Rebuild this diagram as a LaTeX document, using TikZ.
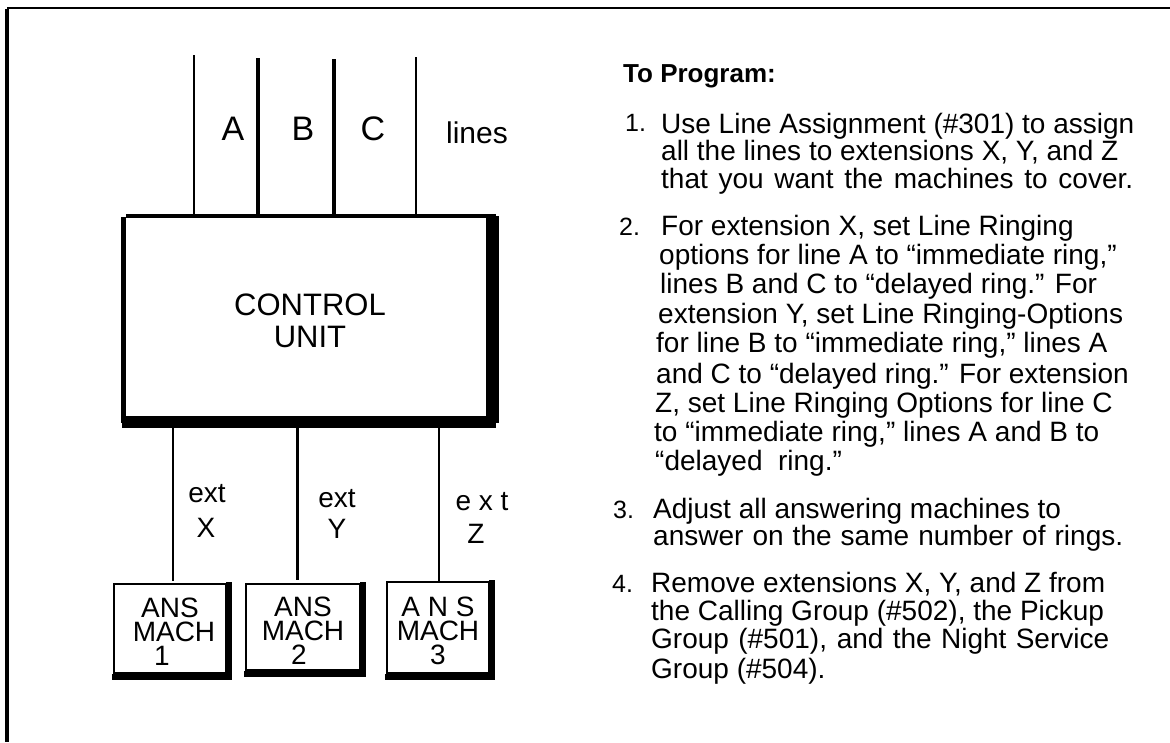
\documentclass[tikz,border=0pt]{standalone}
\usepackage{fontspec}
\setmainfont{Liberation Sans}
\usetikzlibrary{calc}
\begin{document}
\begin{tikzpicture}[x=1pt,y=-1pt,
  txt/.style={inner sep=0pt, anchor=base west, font=\fontsize{28}{28}\selectfont},
  num/.style={inner sep=0pt, anchor=base west, font=\fontsize{25}{25}\selectfont},
  ttl/.style={inner sep=0pt, anchor=base west, font=\fontsize{26}{26}\selectfont\bfseries},
  lbl/.style={inner sep=0pt, anchor=base, font=\fontsize{28}{28}\selectfont},
  biglbl/.style={inner sep=0pt, anchor=base, font=\fontsize{34}{34}\selectfont},
  ansbox/.style={draw, line width=1.3pt, inner sep=0pt, align=center, font=\fontsize{28}{24}\selectfont},
  thinw/.style={line width=2pt},
  thickw/.style={line width=3.5pt}
]
\useasboundingbox (0,0) rectangle (1170,742);
% frame
\coordinate (fTL) at (7.3,7.7);
\coordinate (fTR) at (1170,7.7);
\coordinate (fLT) at (6.7,9.3);
\coordinate (fLB) at (6.7,742);
\draw[line width=2pt] (fTL) -- (fTR);
\draw[line width=4pt] (fLT) -- (fLB);

% control unit
\node[inner sep=0pt, minimum width=378pt, minimum height=214.3pt, align=center,
      font=\fontsize{31}{32}\selectfont] (cu) at (310,320.85) {CONTROL\\UNIT};
\fill ($(cu.north west)+(5.6,0)$) rectangle ($(cu.north east)+(-3,4.6)$);
\fill ($(cu.north west)+(0,3.3)$) rectangle ($(cu.south west)+(5,-5.3)$);
\fill ($(cu.north east)+(-13,2.3)$) rectangle ($(cu.south east)+(0,-5)$);
\fill ($(cu.south west)+(1,0)$) rectangle ($(cu.south east)+(-3,-12)$);

% incoming lines
\coordinate (lA) at (194,55);
\coordinate (lB) at (258,58);
\coordinate (lC) at (334,59);
\coordinate (lD) at (416,57);
\draw[thinw] (lA) -- (lA |- cu.north);
\draw[thickw] (lB) -- (lB |- cu.north);
\draw[thickw] (lC) -- (lC |- cu.north);
\draw[thinw] (lD) -- (lD |- cu.north);
\node[biglbl] (labA) at (233,140) {A};
\node[biglbl] (labB) at (303,140) {B};
\node[biglbl] (labC) at (373,140) {C};
\node[inner sep=0pt, anchor=base, font=\fontsize{30}{30}\selectfont] (labL) at (477,143) {lines};

% answering machines
\node[ansbox, minimum width=112pt, minimum height=89pt] (m1) at (170,628.5)
  {\rule{0pt}{26pt}ANS\\\hspace*{8pt}MACH\\1\hspace*{16pt}};
\node[ansbox, minimum width=114pt, minimum height=86pt] (m2) at (303,627)
  {\rule{0pt}{26pt}ANS\\MACH\\2\hspace*{8pt}};
\node[ansbox, minimum width=102pt, minimum height=91pt] (m3) at (438,627.5)
  {\rule{0pt}{26pt}A N S\\MACH\\3};
\foreach \m in {m1,m2,m3}{
  \fill ($(\m.north east)+(-1,-1)$) rectangle ($(\m.south east)+(5,6)$);
  \fill ($(\m.south west)+(-1,0)$) rectangle ($(\m.south east)+(5,6)$);
}

% extension lines
\coordinate (xX) at (173,0);
\coordinate (xY) at (297.5,0);
\coordinate (xZ) at (438.6,0);
\draw[thinw] (xX |- cu.south) -- ($(xX |- m1.north)+(0,-2)$);
\draw[thickw] (xY |- cu.south) -- ($(xY |- m2.north)+(0,-3)$);
\draw[thinw] (xZ |- cu.south) -- (xZ |- m3.north);
\node[lbl] (eX1) at (207,502) {ext};
\node[lbl] (eX2) at (206,537) {X};
\node[lbl] (eY1) at (337,507) {ext};
\node[lbl] (eY2) at (337,538) {Y};
\node[lbl] (eZ1) at (482,510) {e x t};
\node[lbl] (eZ2) at (476,543) {Z};

% instructions
\node[ttl] (title) at (623,82) {To Program:};
\node[num] (n1) at (625,131) {1.};
\node[txt] (t11) at (661,133) {Use Line Assignment (\#301) to assign};
\node[txt] (t12) at (661,160) {all the lines to extensions X, Y, and Z};
\node[txt] (t13) at (661,188) {\makebox[472pt][s]{that you want the machines to cover.}};
\node[num] (n2) at (619,235) {2.};
\node[txt] (t21) at (661,235) {For extension X, set Line Ringing};
\node[txt] (t22) at (659,264) {options for line A to “immediate ring,”};
\node[txt] (t23) at (660,293) {lines B and C to “delayed ring.” For};
\node[txt] (t24) at (658,323) {extension Y, set Line Ringing-Options};
\node[txt] (t25) at (656,352) {for line B to “immediate ring,” lines A};
\node[txt] (t26) at (656,383) {and C to “delayed ring.” For extension};
\node[txt] (t27) at (655,412) {Z, set Line Ringing Options for line C};
\node[txt] (t28) at (654,441) {to “immediate ring,” lines A and B to};
\node[txt] (t29) at (655,470) {“delayed\ \ ring.”};
\node[num] (n3) at (613,518) {3.};
\node[txt] (t31) at (653,518) {Adjust all answering machines to};
\node[txt] (t32) at (653,545) {\makebox[470pt][s]{answer on the same number of rings.}};
\node[num] (n4) at (612,592) {4.};
\node[txt] (t41) at (651,592) {Remove extensions X, Y, and Z from};
\node[txt] (t42) at (651,620) {the Calling Group (\#502), the Pickup};
\node[txt] (t43) at (651,648) {\makebox[458pt][s]{Group (\#501), and the Night Service}};
\node[txt] (t44) at (651,678) {Group (\#504).};
\end{tikzpicture}
\end{document}
